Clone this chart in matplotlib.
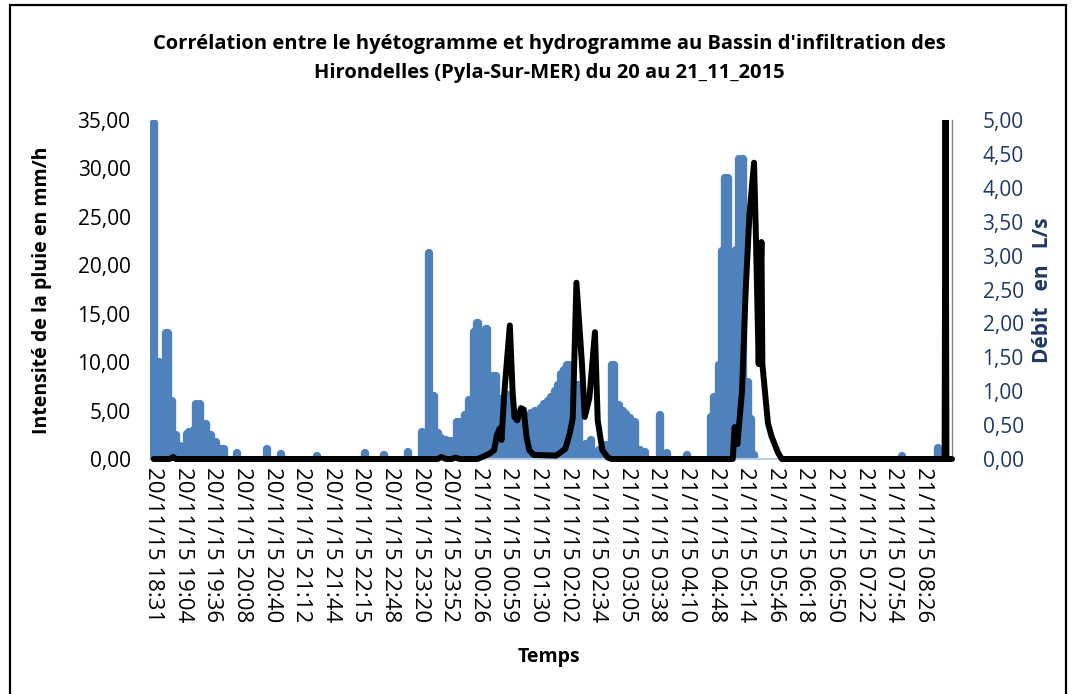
import numpy as np
import matplotlib.pyplot as plt
from matplotlib.patches import Rectangle

plt.rcParams['font.family'] = ['Open Sans', 'DejaVu Sans']

# category axis: one record per step, a date label every 32 records
n_records = 864
tick_step = 32
tick_labels = ['20/11/15 18:31', '20/11/15 19:04', '20/11/15 19:36', '20/11/15 20:08',
               '20/11/15 20:40', '20/11/15 21:12', '20/11/15 21:44', '20/11/15 22:15',
               '20/11/15 22:48', '20/11/15 23:20', '20/11/15 23:52', '21/11/15 00:26',
               '21/11/15 00:59', '21/11/15 01:30', '21/11/15 02:02', '21/11/15 02:34',
               '21/11/15 03:05', '21/11/15 03:38', '21/11/15 04:10', '21/11/15 04:48',
               '21/11/15 05:14', '21/11/15 05:46', '21/11/15 06:18', '21/11/15 06:50',
               '21/11/15 07:22', '21/11/15 07:54', '21/11/15 08:26']

# rain intensity (mm/h) - only the records where it rained
rain_idx = [0, 4, 6, 13, 15, 20, 24, 28, 36, 38, 44, 46, 50, 56, 62, 67, 73, 76,
            90, 123, 138, 177, 228, 249, 275,
            290, 298, 303, 307, 311, 316, 321, 328, 331, 336, 341, 346, 349, 351,
            359, 360, 364, 368, 370, 374, 378, 383, 387, 393, 398, 401, 404, 408,
            412, 416, 419, 422, 426, 430, 434, 437, 440, 444, 447, 449, 453, 456,
            460, 467, 473, 481, 489, 495, 498, 503, 507, 511, 515, 520, 526, 531,
            547, 555, 577,
            603, 606, 611, 614, 618, 621, 626, 629, 633, 637, 642, 646, 649,
            809, 848]
rain_mmh = [34.7, 10.0, 10.0, 13.0, 13.0, 6.0, 2.5, 1.3, 2.6, 2.8, 3.0, 5.7, 5.7, 3.6, 2.5, 1.8, 1.0, 1.0,
            0.6, 1.0, 0.5, 0.3, 0.6, 0.4, 0.7,
            2.8, 21.3, 6.5, 2.7, 2.2, 2.0, 1.9, 3.8, 3.8, 4.5, 6.1, 13.1, 14.0, 14.0,
            13.4, 13.4, 8.6, 8.6, 8.6, 6.2, 6.0, 6.6, 5.3, 4.2, 4.2, 3.6, 3.5, 4.8,
            5.0, 5.0, 5.3, 5.7, 6.0, 6.4, 7.0, 7.6, 8.8, 9.2, 9.7, 9.7, 8.0, 7.6,
            7.6, 1.6, 2.0, 0.9, 1.4, 9.7, 9.7, 5.6, 5.0, 4.6, 4.2, 3.8, 0.9, 0.7,
            4.5, 0.6, 0.4,
            4.3, 6.4, 9.7, 21.5, 29.0, 29.0, 20.7, 21.6, 31.0, 31.0, 8.0, 4.1, 0.4,
            0.3, 1.1]

# discharge (L/s)
q_idx = [0, 17, 21, 24, 307, 311, 316, 322, 326, 331, 350, 357, 363, 368, 371,
         374, 376, 379, 385, 388, 390, 393, 397, 400, 403, 406, 411, 435, 445,
         450, 453, 457, 463, 466, 471, 477, 480, 485, 491, 495,
         626, 628, 631, 636, 640, 644, 649, 651, 654, 657, 658, 664, 668, 675,
         679, 855, 856, 857, 863]
q_ls = [0.0, 0.0, 0.03, 0.0, 0.0, 0.03, 0.0, 0.0, 0.02, 0.0, 0.0, 0.04, 0.08, 0.13, 0.35,
        0.45, 0.28, 0.97, 1.97, 0.99, 0.62, 0.57, 0.75, 0.73, 0.33, 0.13, 0.06, 0.05, 0.15,
        0.39, 0.6, 2.6, 1.4, 0.62, 0.9, 1.87, 0.57, 0.13, 0.02, 0.0,
        0.0, 0.47, 0.22, 1.0, 2.5, 3.6, 4.37, 3.3, 1.4, 3.2, 1.4, 0.53, 0.33, 0.09,
        0.0, 0.0, 5.4, 0.0, 0.0]

bar_color = '#4f81bd'
navy = '#1f3864'

fig = plt.figure(figsize=(10.78, 6.94), dpi=100)
ax = fig.add_axes([150 / 1078, 1 - 459 / 694, 802 / 1078, 339 / 694])
ax2 = ax.twinx()

# hyetogram: thick strokes with rounded tops
ax.vlines(rain_idx, 0, rain_mmh, colors=bar_color, linewidth=6.0,
          capstyle='round', zorder=2)
ax.set_xlim(-4, n_records - 1)
ax.set_ylim(0, 35)
l_ticks = np.arange(0, 35.1, 5)
ax.set_yticks(l_ticks)
ax.set_yticklabels([('%.2f' % v).replace('.', ',') for v in l_ticks])
ax.set_xticks(np.arange(0, len(tick_labels) * tick_step, tick_step))
ax.set_xticklabels(tick_labels, rotation=270, ha='center', va='top')
ax.tick_params(axis='both', length=0, colors='black')
ax.tick_params(axis='x', pad=6, labelsize=16)
ax.tick_params(axis='y', pad=14, labelsize=15)

# hydrogram
line, = ax2.plot(q_idx, q_ls, color='black', linewidth=4.3,
                 solid_joinstyle='round', solid_capstyle='round', zorder=3)
line.set_clip_path(Rectangle((-0.01, -0.03), 1.02, 1.03, transform=ax2.transAxes))
ax2.set_ylim(0, 5)
q_ticks = np.arange(0, 5.01, 0.5)
ax2.set_yticks(q_ticks)
ax2.set_yticklabels([('%.2f' % v).replace('.', ',') for v in q_ticks])
ax2.tick_params(axis='y', length=0, labelsize=15, colors=navy, pad=22)

for s in ['top', 'left', 'right']:
    ax.spines[s].set_visible(False)
ax.spines['bottom'].set_color('#b9cde5')
ax.spines['bottom'].set_linewidth(1.5)
for s in ['top', 'left', 'bottom']:
    ax2.spines[s].set_visible(False)
ax2.spines['right'].set_color('#868686')
ax2.spines['right'].set_linewidth(1.0)

fig.text(549 / 1078, 1 - 44 / 694,
         "Corrélation entre le hyétogramme et hydrogramme au Bassin d'infiltration des",
         ha='center', va='center', fontsize=14.5, fontweight='bold')
fig.text(549 / 1078, 1 - 73 / 694, 'Hirondelles (Pyla-Sur-MER) du 20 au 21_11_2015',
         ha='center', va='center', fontsize=14.5, fontweight='bold')
fig.text(549 / 1078, 1 - 657 / 694, 'Temps', ha='center', va='center',
         fontsize=14, fontweight='bold')
fig.text(42 / 1078, 1 - 290 / 694, 'Intensité de la pluie en mm/h', rotation=90,
         ha='center', va='center', fontsize=14, fontweight='bold')
fig.text(1043 / 1078, 1 - 290 / 694, 'Débit   en   L/s', rotation=90,
         ha='center', va='center', fontsize=15, fontweight='bold', color=navy)

# chart frame
fig.patches.append(Rectangle((10 / 1078, -0.02), 1056 / 1078, 1.02 - 5 / 694,
                             transform=fig.transFigure, fill=False,
                             edgecolor='black', linewidth=1.6))

fig.savefig('out.png', dpi=100)
